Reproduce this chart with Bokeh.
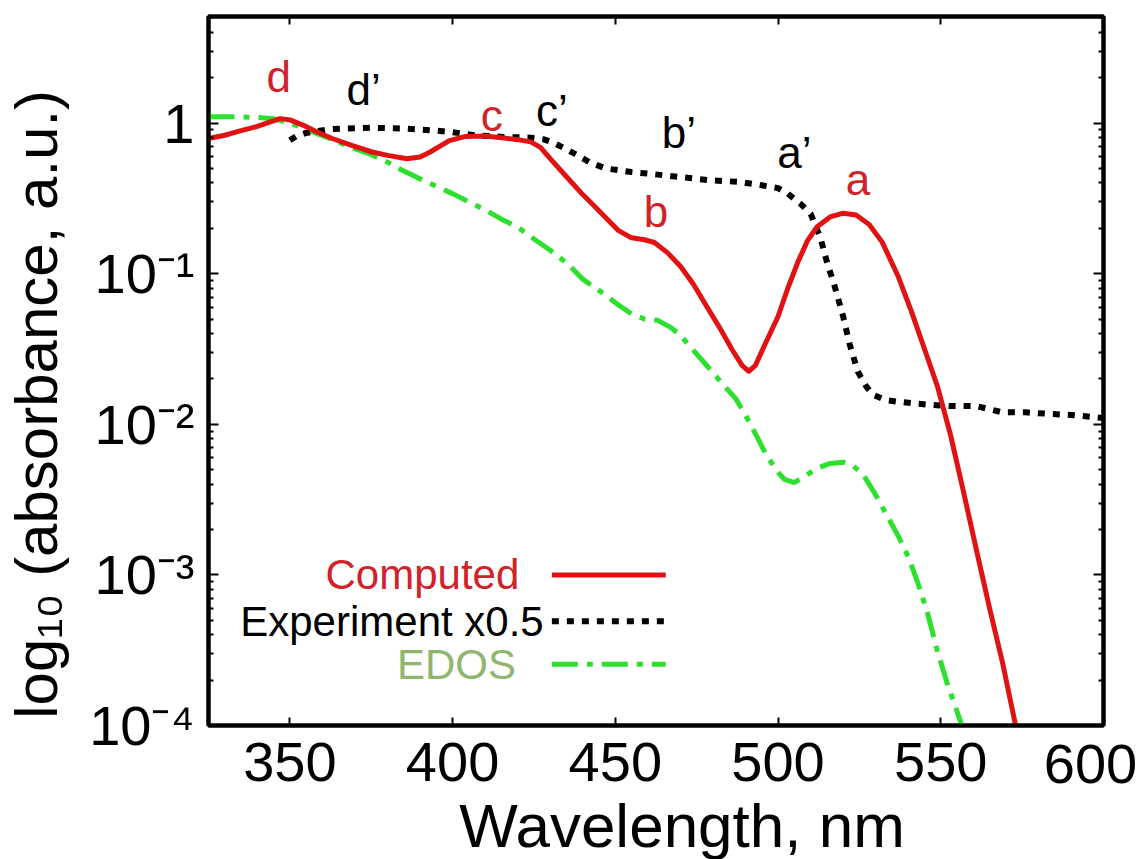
import numpy as np
from bokeh.plotting import figure
from bokeh.models import (LogAxis, LinearAxis, FixedTicker, CustomJSTickFormatter,
                          Range1d, Label)
from bokeh.core.properties import value
from bokeh.embed import file_html
from bokeh.resources import INLINE

# ---------------- data ----------------
computed_nm = [325, 330, 335, 340, 344, 347, 350, 354, 358, 363, 369, 375, 380, 386, 390, 393,
               396, 399, 404, 410, 415, 420, 424, 427, 430, 435, 440, 444, 447, 451, 455,
               459, 462, 466, 470, 474, 478, 482, 486, 489, 491, 493, 496, 500, 503, 506,
               509, 512, 516, 520, 524, 528, 532, 537, 541, 545, 549, 553, 557, 561, 565,
               569, 573, 576]
computed_abs = [0.79, 0.83, 0.89, 0.95, 1.02, 1.07, 1.05, 0.97, 0.88, 0.79, 0.71, 0.645, 0.61,
                0.58, 0.595, 0.64, 0.70, 0.765, 0.815, 0.82, 0.80, 0.776, 0.75, 0.69, 0.58,
                0.44, 0.335, 0.275, 0.236, 0.193, 0.173, 0.168, 0.161, 0.138, 0.112, 0.085,
                0.061, 0.044, 0.031, 0.0245, 0.0225, 0.0245, 0.034, 0.052, 0.080, 0.118,
                0.165, 0.205, 0.238, 0.252, 0.245, 0.212, 0.162, 0.095, 0.056, 0.0316, 0.0178,
                0.0085, 0.00355, 0.00145, 6.0e-4, 2.6e-4, 1.0e-4, 5.0e-5]

experiment_nm = [350, 352, 355, 358, 362, 367, 375, 385, 395, 400, 407, 415, 424, 428, 431,
                 435, 439, 442, 447, 455, 462, 471, 479, 488, 495, 500, 503, 507, 510, 513,
                 515, 517.5, 520, 522, 524.5, 527, 529, 533, 537, 546, 553, 561, 569, 576,
                 584, 591, 600]
experiment_abs = [0.77, 0.82, 0.86, 0.88, 0.91, 0.92, 0.93, 0.92, 0.89, 0.87, 0.83, 0.81,
                  0.80, 0.78, 0.74, 0.67, 0.60, 0.55, 0.50, 0.473, 0.457, 0.436, 0.417,
                  0.407, 0.386, 0.37, 0.34, 0.29, 0.25, 0.174, 0.12, 0.081, 0.052, 0.034,
                  0.0224, 0.018, 0.0158, 0.0145, 0.0141, 0.0135, 0.0132, 0.0132, 0.012,
                  0.012, 0.0117, 0.0115, 0.011]

edos_nm = [325, 330, 335, 340, 345, 350, 355, 358, 363, 368, 374, 380, 385, 389, 395, 400,
           404, 410, 415, 420, 425, 430, 435, 440, 444, 447, 451, 455, 459, 463, 467, 470,
           474, 478.5, 483, 487, 490, 493, 496, 499.6, 502, 505, 508, 512, 516, 520, 523,
           526, 530, 533.6, 537, 540, 543, 546, 549, 552, 556.5, 558]
edos_abs = [1.10, 1.10, 1.10, 1.09, 1.07, 1.0, 0.91, 0.857, 0.78, 0.70, 0.63, 0.55, 0.48,
            0.436, 0.38, 0.34, 0.307, 0.265, 0.23, 0.204, 0.17, 0.143, 0.118, 0.092, 0.08,
            0.072, 0.062, 0.054, 0.050, 0.049, 0.044, 0.039, 0.031, 0.024, 0.0185, 0.0148,
            0.0115, 0.0087, 0.0065, 0.0049, 0.0043, 0.0041, 0.0045, 0.0051, 0.0055, 0.0056,
            0.0053, 0.0047, 0.0034, 0.00245, 0.0018, 0.00132, 0.00088, 0.00055, 0.00031,
            0.00019, 0.0001, 0.00008]

computed_peak_labels = ["d", "c", "b", "a"]
computed_peak_nm = [346.6, 412, 462.5, 524.6]
computed_peak_abs = [2.03, 1.13, 0.26, 0.42]

experiment_peak_labels = ["d’", "c’", "b’", "a’"]
experiment_peak_nm = [372.7, 430.5, 469.5, 505]
experiment_peak_abs = [1.66, 1.22, 0.86, 0.64]

x_tick_values = [350, 400, 450, 500, 550, 600]
x_tick_labels = ["350", "400", "450", "500", "550", "600"]
y_tick_values = [1e-4, 1e-3, 1e-2, 1e-1, 1]
y_tick_labels = ["10⁻⁴", "10⁻³", "10⁻²", "10⁻¹", "1"]

x_title = "Wavelength, nm"
y_title = "log₁₀ (absorbance, a.u.)"
legend_labels = ["Computed", "Experiment x0.5", "EDOS"]

# ---------------- styling ----------------
FONT = "Liberation Sans"
RED = "#e01212"
RED_TXT = "#d0222a"
GREEN = "#2ee02e"
GREEN_TXT = "#8fb56f"
BLACK = "#000000"
DOT = "7 8"
DASHDOT = "26 9 6 9"
NB = "\u00a0"   # no-break space, used only to nudge the rotated y title

p = figure(frame_width=895, frame_height=709,
           x_range=Range1d(325, 600), y_range=Range1d(1e-4, 5.1),
           y_axis_type="log", output_backend="svg", toolbar_location=None,
           min_border_left=205, min_border_right=42, min_border_top=16,
           min_border_bottom=60)
p.background_fill_color = "white"
p.border_fill_color = "white"
p.xgrid.visible = False
p.ygrid.visible = False
p.outline_line_color = BLACK
p.outline_line_width = 4

minor_y = [m * 10.0 ** e for e in range(-4, 1) for m in range(2, 10)]
yfmt = CustomJSTickFormatter(args=dict(vals=y_tick_values, labs=y_tick_labels), code="""
const i = vals.findIndex(v => Math.abs(Math.log10(v) - Math.log10(tick)) < 1e-6);
return i >= 0 ? labs[i] : '';
""")
# the last x label is drawn separately below (nudged left, as in the reference)
xfmt = CustomJSTickFormatter(args=dict(vals=x_tick_values[:-1], labs=x_tick_labels[:-1]),
                             code="""
const i = vals.findIndex(v => Math.abs(v - tick) < 1e-6);
return i >= 0 ? labs[i] : '';
""")
blank = CustomJSTickFormatter(code="return '';")

xa = p.below[0]
xa.ticker = FixedTicker(ticks=x_tick_values)
xa.formatter = xfmt
xa.major_label_text_font = FONT
xa.major_label_text_font_size = "56px"
xa.major_label_text_color = BLACK
xa.major_label_standoff = 17
xa.major_tick_in = 8
xa.major_tick_out = 0
xa.major_tick_line_width = 2
xa.minor_tick_line_color = None
xa.axis_line_width = 4

ya = p.left[0]
ya.ticker = FixedTicker(ticks=y_tick_values, minor_ticks=minor_y)
ya.formatter = yfmt
ya.axis_label = y_title + NB * 4
ya.axis_label_text_font = FONT
ya.axis_label_text_font_style = "normal"
ya.axis_label_text_font_size = "60px"
ya.axis_label_text_color = BLACK
ya.axis_label_standoff = 16
ya.major_label_text_font = FONT
ya.major_label_text_font_size = "56px"
ya.major_label_text_color = BLACK
ya.major_label_standoff = 14
ya.major_tick_in = 10
ya.major_tick_out = 0
ya.minor_tick_in = 5
ya.minor_tick_out = 0
ya.major_tick_line_width = 2
ya.minor_tick_line_width = 2
ya.axis_line_width = 4

top = LinearAxis(ticker=FixedTicker(ticks=x_tick_values), formatter=blank,
                 major_label_standoff=0, major_tick_in=8, major_tick_out=0,
                 major_tick_line_width=2, minor_tick_line_color=None, axis_line_width=4)
p.add_layout(top, "above")
right = LogAxis(ticker=FixedTicker(ticks=y_tick_values, minor_ticks=minor_y),
                formatter=blank, major_label_standoff=0,
                major_tick_in=10, major_tick_out=0, minor_tick_in=5, minor_tick_out=0,
                major_tick_line_width=2, minor_tick_line_width=2, axis_line_width=4)
p.add_layout(right, "right")

# last tick label and x title, placed in the bottom panel (not clipped to the frame)
p.add_layout(Label(x=x_tick_values[-1], y=y_tick_values[0], text=x_tick_labels[-1],
                   x_offset=-13, y_offset=-19, text_align="center", text_baseline="top",
                   text_font=FONT, text_font_size="56px", text_color=BLACK), "below")
p.add_layout(Label(x=470.5, y=y_tick_values[0], text=x_title,
                   y_offset=-65, text_align="center", text_baseline="top",
                   text_font=FONT, text_font_size="62px", text_color=BLACK), "below")

# ---------------- curves ----------------
p.line(edos_nm, edos_abs, line_color=GREEN, line_width=5, line_dash=DASHDOT)
p.line(experiment_nm, experiment_abs, line_color=BLACK, line_width=6, line_dash=DOT)
p.line(computed_nm, computed_abs, line_color=RED, line_width=5, line_join="round")

# ---------------- peak letters ----------------
p.text(x=computed_peak_nm, y=computed_peak_abs, text=computed_peak_labels,
       text_font=value(FONT), text_font_size="44px", text_align="center",
       text_baseline="middle", text_color=RED_TXT)
p.text(x=experiment_peak_nm, y=experiment_peak_abs, text=experiment_peak_labels,
       text_font=value(FONT), text_font_size="44px", text_align="center",
       text_baseline="middle", text_color=BLACK)

# ---------------- legend (text left, sample right) ----------------
leg_text_x = [420.5, 428.0, 419.5]
leg_y = [1.0e-3, 4.93e-4, 2.55e-4]
leg_x0 = 430.5
leg_x1 = 465.5
p.text(x=leg_text_x, y=leg_y, text=legend_labels, text_font=value(FONT),
       text_font_size="42px", text_align="right", text_baseline="middle",
       text_color=[RED_TXT, BLACK, GREEN_TXT])
p.segment(x0=[leg_x0], y0=[leg_y[0]], x1=[leg_x1], y1=[leg_y[0]], line_color=RED, line_width=5)
p.segment(x0=[leg_x0], y0=[leg_y[1]], x1=[leg_x1], y1=[leg_y[1]], line_color=BLACK,
          line_width=6, line_dash=DOT)
p.segment(x0=[leg_x0], y0=[leg_y[2]], x1=[leg_x1], y1=[leg_y[2]], line_color=GREEN,
          line_width=5, line_dash=DASHDOT)

open("out.html", "w").write(file_html(p, INLINE))
